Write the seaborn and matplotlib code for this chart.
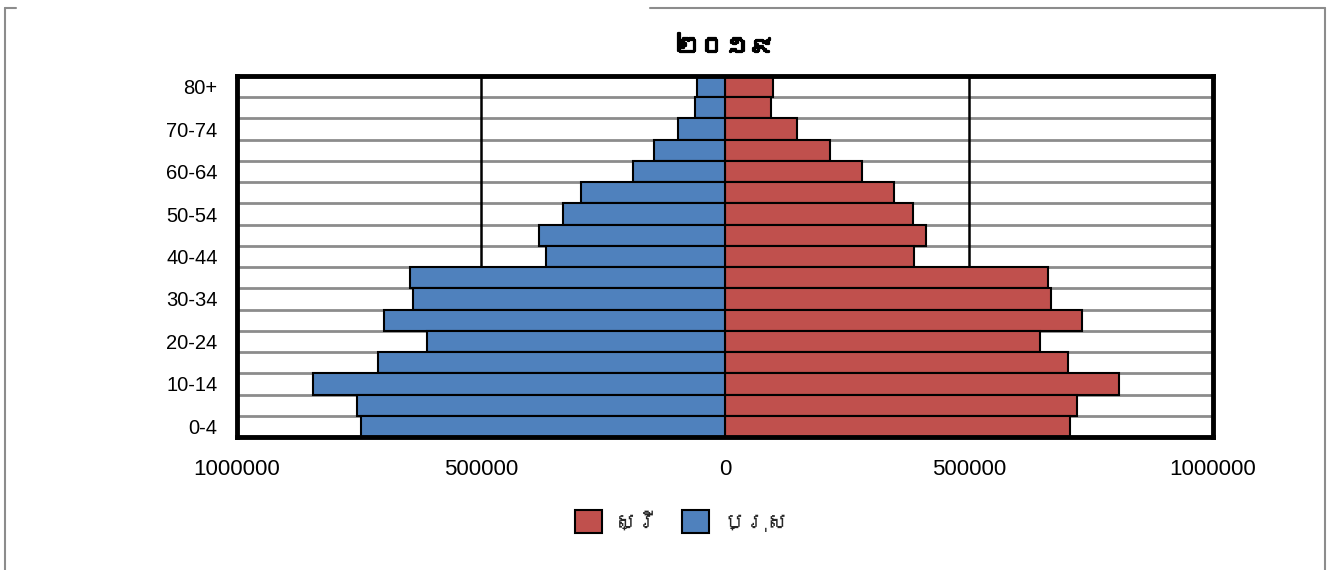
import pandas as pd
import matplotlib.pyplot as plt
import seaborn as sns
from matplotlib import font_manager
from matplotlib.ft2font import FT2Font
from matplotlib.patches import Patch
from matplotlib.lines import Line2D
from matplotlib.ticker import FuncFormatter
import matplotlib.patheffects as pe

"""Population pyramid 2019 (Khmer labels)"""
age_groups = ['80+', '75-79', '70-74', '65-69', '60-64', '55-59', '50-54', '45-49',
              '40-44', '35-39', '30-34', '25-29', '20-24', '15-19', '10-14', '5-9', '0-4']
male = [57000, 61000, 96000, 145000, 188000, 295000, 332000, 381000,
        367000, 645000, 639000, 699000, 611000, 711000, 844000, 754000, 746000]
female = [98000, 94000, 147000, 215000, 280000, 346000, 385000, 411000,
          388000, 662000, 669000, 732000, 645000, 702000, 807000, 722000, 706000]
shown_labels = ['80+', '70-74', '60-64', '50-54', '40-44', '30-34', '20-24', '10-14', '0-4']
title = '២០១៩'
label_female = 'ស្រី'
label_male = 'ប្រុស'

df = pd.DataFrame({'age': age_groups, 'male': [-v for v in male], 'female': female})


def khmer_families():
    """Look for installed families that carry Khmer glyphs"""
    found = []
    for f in font_manager.fontManager.ttflist:
        try:
            cmap = FT2Font(f.fname).get_charmap()
        except Exception:
            continue
        if 0x179F in cmap and 0x17E2 in cmap and f.name not in found:
            found.append(f.name)
    return found


sns.set_style('white')
kh = khmer_families()
plt.rcParams['font.family'] = ['Liberation Sans'] + kh + ['DejaVu Sans']

red = '#C0504D'
blue = '#4F81BD'

fig = plt.figure(figsize=(13.33, 5.70), dpi=100)
ax = fig.add_axes([237 / 1333, 1 - 437 / 570, (1213 - 237) / 1333, (437 - 76) / 570])

sns.barplot(data=df, y='age', x='female', order=age_groups, color=red, width=1,
            edgecolor='black', linewidth=1.5, saturation=1, ax=ax, zorder=3)
sns.barplot(data=df, y='age', x='male', order=age_groups, color=blue, width=1,
            edgecolor='black', linewidth=1.5, saturation=1, ax=ax, zorder=3)

ax.set_xlim(-1000000, 1000000)
ax.set_ylim(len(age_groups) - 0.5, -0.5)

"""Grid: gray row separators, black verticals at +-500000"""
for k in range(len(age_groups) - 1):
    ax.axhline(k + 0.5, color='#8c8c8c', linewidth=2, zorder=1)
for v in (-500000, 500000):
    ax.axvline(v, color='black', linewidth=1.8, zorder=2)

ax.set_xticks([-1000000, -500000, 0, 500000, 1000000])
ax.xaxis.set_major_formatter(FuncFormatter(lambda v, p: f'{abs(int(v))}'))
ax.set_yticks([age_groups.index(a) for a in shown_labels])
ax.set_yticklabels(shown_labels)
ax.tick_params(axis='x', length=0, pad=16, labelsize=16, labelcolor='black')
ax.tick_params(axis='y', length=0, pad=14, labelsize=14.5, labelcolor='black')
ax.set_xlabel('')
ax.set_ylabel('')

for s in ax.spines.values():
    s.set_visible(True)
    s.set_color('black')
    s.set_linewidth(3.5)
    s.set_zorder(5)

t = ax.set_title(title, fontsize=18, fontweight='bold', pad=16, color='black')
# the Khmer face has no bold cut, thicken it with a stroke
t.set_path_effects([pe.withStroke(linewidth=1.6, foreground='black')])

handles = [Patch(facecolor=red, edgecolor='black', linewidth=1.5, label=label_female),
           Patch(facecolor=blue, edgecolor='black', linewidth=1.5, label=label_male)]
fig.legend(handles=handles, loc='center', bbox_to_anchor=(682 / 1333, 1 - 522 / 570),
           ncol=2, frameon=False, fontsize=16, handlelength=1.2, handleheight=1.2,
           handletextpad=0.6, columnspacing=1.0)

"""Outer chart frame (partly visible in the original)"""
gray = '#8c8c8c'
fig.add_artist(Line2D([5 / 1333, 5 / 1333], [0, 1 - 8 / 570], color=gray, lw=1.5))
fig.add_artist(Line2D([5 / 1333, 16 / 1333], [1 - 8 / 570, 1 - 8 / 570], color=gray, lw=1.5))
fig.add_artist(Line2D([650 / 1333, 1325 / 1333], [1 - 8 / 570, 1 - 8 / 570], color=gray, lw=1.5))
fig.add_artist(Line2D([1325 / 1333, 1325 / 1333], [0, 1 - 8 / 570], color=gray, lw=1.5))

fig.savefig('out.png', dpi=100)
